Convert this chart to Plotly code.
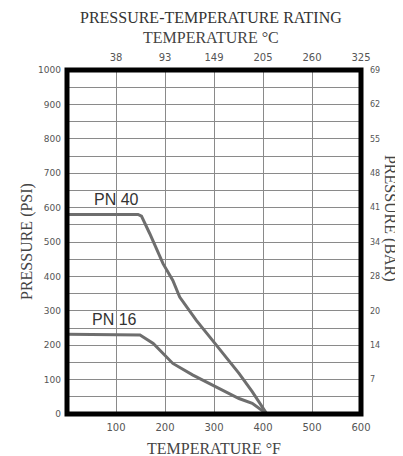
import plotly.graph_objects as go

# data
pn40_temp_f = [0, 145, 152, 169, 196, 216, 230, 264, 297, 324, 351, 378, 408]
pn40_psi = [580, 580, 575, 524, 437, 388, 340, 272, 214, 166, 118, 65, 0]
pn16_temp_f = [0, 145, 149, 176, 216, 257, 297, 324, 351, 378, 408]
pn16_psi = [232, 232, 230, 205, 147, 113, 84, 65, 45, 31, 0]

f_ticks = [100, 200, 300, 400, 500, 600]
c_labels = ["38", "93", "149", "205", "260", "325"]
psi_ticks = [0, 100, 200, 300, 400, 500, 600, 700, 800, 900, 1000]
bar_ticks = [100, 200, 300, 400, 500, 600, 700, 800, 900, 1000]
bar_labels = ["7", "14", "20", "28", "34", "41", "48", "55", "62", "69"]

line_color = "#6e6e6e"
grid_color = "#8a8a8a"
serif = "Liberation Serif"
tick_family = "DejaVu Sans"

fig = go.Figure()
fig.add_trace(go.Scatter(x=pn40_temp_f, y=pn40_psi, mode="lines",
                         line=dict(color=line_color, width=3), showlegend=False))
fig.add_trace(go.Scatter(x=pn16_temp_f, y=pn16_psi, mode="lines",
                         line=dict(color=line_color, width=3), showlegend=False))
# invisible trace to activate secondary axes
fig.add_trace(go.Scatter(x=[0], y=[0], xaxis="x2", yaxis="y2", mode="markers",
                         marker=dict(opacity=0), showlegend=False, hoverinfo="skip"))

fig.update_layout(
    template="none",
    width=395, height=448,
    margin=dict(l=59, r=42, t=62, b=42, autoexpand=False),
    paper_bgcolor="white", plot_bgcolor="white",
    xaxis=dict(range=[0, 600], tickmode="array", tickvals=f_ticks,
               showgrid=True, gridcolor=grid_color, gridwidth=1,
               zeroline=False, showline=False, ticks="", automargin=False,
               ticklabelstandoff=6,
               tickfont=dict(family=tick_family, size=10, color="#555")),
    xaxis2=dict(range=[0, 600], overlaying="x", side="top", tickmode="array",
                tickvals=f_ticks, ticktext=c_labels, showgrid=False,
                zeroline=False, ticks="", automargin=False, ticklabelstandoff=6,
                tickfont=dict(family=tick_family, size=10, color="#555")),
    yaxis=dict(range=[0, 1000], tickmode="array", tickvals=psi_ticks,
               showgrid=True, gridcolor=grid_color, gridwidth=1,
               minor=dict(dtick=50, tick0=0, showgrid=True, gridcolor=grid_color, gridwidth=1),
               zeroline=False, showline=False, ticks="", ticklabelstandoff=5,
               automargin=False,
               tickfont=dict(family=tick_family, size=9, color="#555")),
    yaxis2=dict(range=[0, 1000], overlaying="y", side="right", tickmode="array",
                tickvals=bar_ticks, ticktext=bar_labels, showgrid=False,
                zeroline=False, ticks="", ticklabelstandoff=8, automargin=False,
                tickfont=dict(family=tick_family, size=8, color="#555")),
    shapes=[dict(type="rect", xref="paper", yref="paper", x0=0, x1=1, y0=0, y1=1,
                 line=dict(color="black", width=5), layer="above")],
    annotations=[
        dict(text="PRESSURE-TEMPERATURE RATING", xref="paper", yref="paper",
             x=0.49, y=1.0, yshift=53, yanchor="middle", showarrow=False,
             font=dict(family=serif, size=16, color="#333")),
        dict(text="TEMPERATURE °C", xref="paper", yref="paper",
             x=0.49, y=1.0, yshift=33, yanchor="middle", showarrow=False,
             font=dict(family=serif, size=16, color="#444")),
        dict(text="TEMPERATURE °F", xref="paper", yref="paper",
             x=0.5, y=0, yshift=-34, yanchor="middle", showarrow=False,
             font=dict(family=serif, size=16, color="#444")),
        dict(text="PRESSURE (PSI)", xref="paper", yref="paper",
             x=0, xshift=-40, xanchor="center", y=0.5, yanchor="middle",
             textangle=-90, showarrow=False,
             font=dict(family=serif, size=16, color="#444")),
        dict(text="PRESSURE (BAR)", xref="paper", yref="paper",
             x=1, xshift=29, xanchor="center", y=0.57, yanchor="middle",
             textangle=90, showarrow=False,
             font=dict(family=serif, size=16, color="#444")),
        dict(text="PN 40", x=100, y=580, yshift=15, yanchor="middle", showarrow=False,
             font=dict(family="Liberation Sans", size=16, color="#333")),
        dict(text="PN 16", x=97, y=232, yshift=15, yanchor="middle", showarrow=False,
             font=dict(family="Liberation Sans", size=16, color="#333")),
    ],
)

fig.write_html("out.html")
